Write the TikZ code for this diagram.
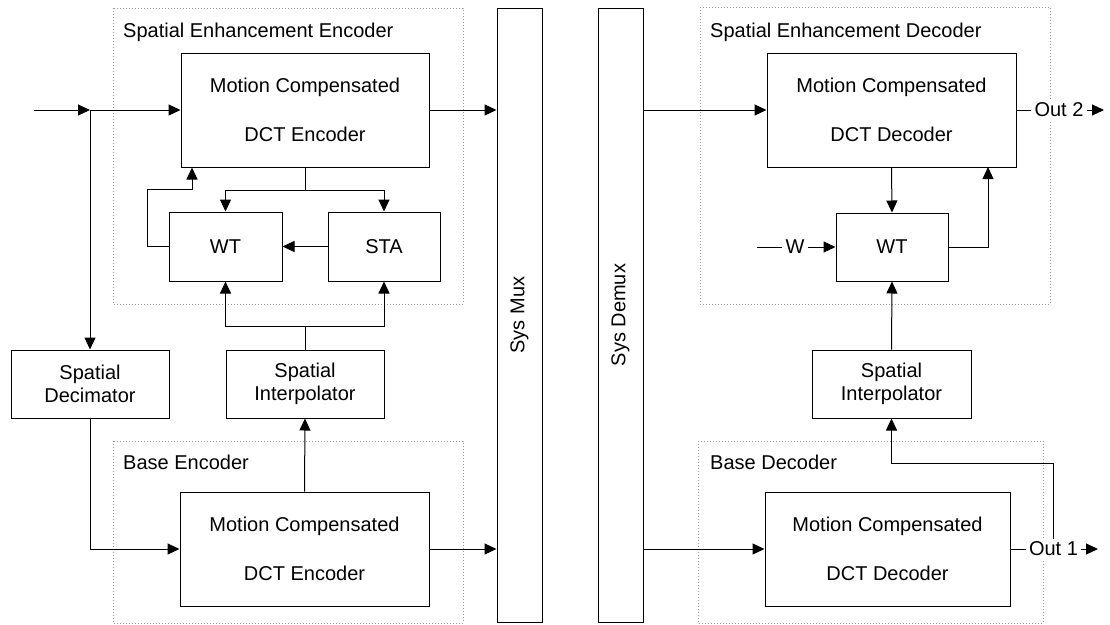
\documentclass[tikz,border=0pt]{standalone}
\usepackage{fontspec}
\setmainfont{Liberation Sans}
\usetikzlibrary{arrows.meta,calc}

\begin{document}
\begin{tikzpicture}[x=1pt,y=-1pt,
  font=\fontsize{20pt}{23pt}\selectfont,
  blk/.style={draw=black, line width=1pt, fill=white, inner sep=0pt, align=center},
  tall/.style={font=\fontsize{20pt}{49pt}\selectfont},
  grp/.style={draw=black!40, line width=1pt, dash pattern=on 1pt off 2pt},
  arr/.style={-{Triangle[length=12pt,width=11pt]}},
  wire/.style={line width=1pt},
  ttl/.style={anchor=base west, inner sep=0pt},
  tag/.style={inner sep=3pt, fill=white}
]
\useasboundingbox (0,0) rectangle (1110,624);

% dotted group frames with their titles
\draw[grp] (113,8) rectangle (463,304);
\node[ttl] (t1) at (123,37) {Spatial Enhancement Encoder};
\draw[grp] (113,441) rectangle (463,623);
\node[ttl] (t2) at (123,469) {Base Encoder};
\draw[grp] (700,7) rectangle (1050,304);
\node[ttl] (t3) at (710,37) {Spatial Enhancement Decoder};
\draw[grp] (698,441) rectangle (1043,623);
\node[ttl] (t4) at (710,469) {Base Decoder};

% encoder side blocks
\node[blk,tall,minimum width=248pt,minimum height=114pt] (enc) at (305,110) {Motion Compensated\\DCT Encoder};
\node[blk,minimum width=113pt,minimum height=69pt] (wte) at (225.5,246.5) {WT};
\node[blk,minimum width=112pt,minimum height=69pt] (sta) at (384,246.5) {STA};
\node[blk,minimum width=158pt,minimum height=68pt] (deci) at (90,384) {Spatial\\Decimator};
\node[blk,minimum width=158pt,minimum height=68pt] (inte) at (305,384) {Spatial\\Interpolator};
\node[blk,tall,minimum width=249pt,minimum height=114pt] (benc) at (304.5,549) {Motion Compensated\\DCT Encoder};

% multiplexer and demultiplexer
\node[blk,minimum width=45pt,minimum height=614pt,label={[rotate=90]center:Sys Mux}] (mux) at (519.5,315) {};
\node[blk,minimum width=45pt,minimum height=614pt,label={[rotate=90]center:Sys Demux}] (demux) at (620.5,315) {};

% decoder side blocks
\node[blk,tall,minimum width=249pt,minimum height=114pt] (dec) at (891.5,110) {Motion Compensated\\DCT Decoder};
\node[blk,minimum width=112pt,minimum height=68pt] (wtd) at (892,247) {WT};
\node[blk,minimum width=159pt,minimum height=68pt] (intd) at (891.5,384) {Spatial\\Interpolator};
\node[blk,tall,minimum width=245pt,minimum height=114pt] (bdec) at (887.5,549) {Motion Compensated\\DCT Decoder};

% encoder connections
\coordinate (in) at (34,110);
\coordinate (j) at (90,110);
\draw[wire,arr] (in) -- (j);
\draw[wire,arr] (j) -- (enc.west);
\draw[wire,arr] (j) -- (deci.north);
\draw[wire,arr] (deci.south) |- (benc.west);
\draw[wire,arr] (enc.east) -- (enc.east -| mux.west);
\draw[wire,arr] (benc.east) -- (benc.east -| mux.west);
\draw[wire] (enc.south) -- ++(0,23) coordinate (s1);
\draw[wire,arr] (s1) -| (wte.north);
\draw[wire,arr] (s1) -| (sta.north);
\draw[wire,arr] (sta.west) -- (wte.east);
\coordinate (fb) at (192,189);
\draw[wire,arr] (wte.west) -- ++(-21,0) |- (fb) -- (fb |- enc.south);
\draw[wire,arr] (benc.north) -- (inte.south);
\draw[wire] (inte.north) -- ++(0,-23) coordinate (s2);
\draw[wire,arr] (s2) -| (wte.south);
\draw[wire,arr] (s2) -| (sta.south);

% decoder connections
\draw[wire,arr] (demux.east |- dec.west) -- (dec.west);
\draw[wire,arr] (demux.east |- bdec.west) -- (bdec.west);
\draw[wire,arr] (dec.south) -- (wtd.north);
\draw[wire,arr] (intd.north) -- (wtd.south);
\node[tag] (w) at (795,247) {W};
\coordinate (win) at (757,247);
\draw[wire] (win) -- (w.west);
\draw[wire,arr] (w.east) -- (wtd.west);
\coordinate (dfb) at (988,167);
\draw[wire,arr] (wtd.east) -| (dfb);
\node[tag] (o2) at (1059,110) {Out 2};
\coordinate (out2) at (1104,110);
\draw[wire] (dec.east) -- (o2.west);
\draw[wire,arr] (o2.east) -- (out2);
\node[tag] (o1) at (1053.5,549) {Out 1};
\coordinate (out1) at (1098,549);
\draw[wire] (bdec.east) -- (o1.west);
\draw[wire,arr] (o1.east) -- (out1);
\coordinate (k) at (1054,463);
\draw[wire,arr] (o1.north) -- (o1.north |- k) -| (intd.south);
\end{tikzpicture}
\end{document}
